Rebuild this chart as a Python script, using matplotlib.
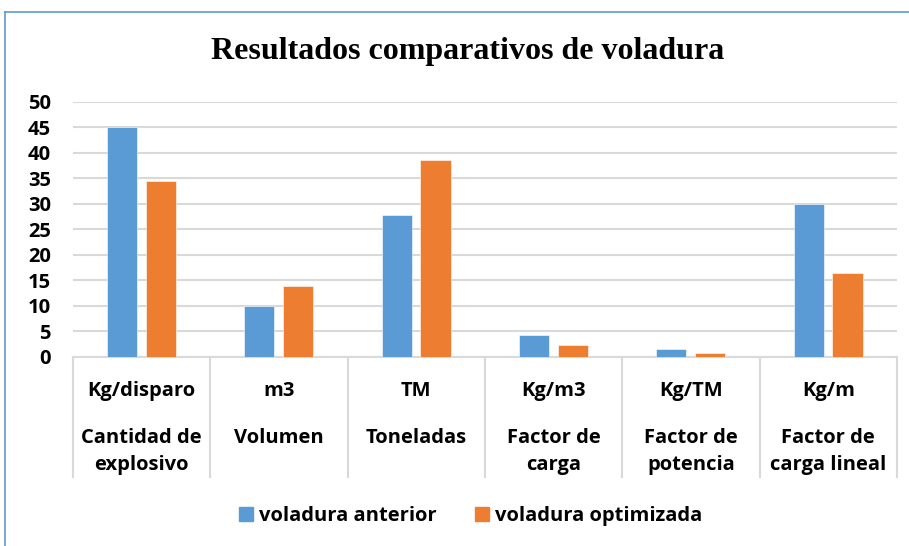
import matplotlib
matplotlib.use("Agg")
import matplotlib.pyplot as plt
import matplotlib.patches as mpatches
from matplotlib.lines import Line2D
import numpy as np

units = ["Kg/disparo", "m3", "TM", "Kg/m3", "Kg/TM", "Kg/m"]
names = ["Cantidad de\nexplosivo", "Volumen", "Toneladas",
         "Factor de\ncarga", "Factor de\npotencia", "Factor de\ncarga lineal"]
anterior = [45, 10, 27.8, 4.3, 1.5, 30]
optimizada = [34.5, 14, 38.5, 2.4, 0.8, 16.5]
series_names = ["voladura anterior", "voladura optimizada"]
yticks = [0, 5, 10, 15, 20, 25, 30, 35, 40, 45, 50]

BLUE = "#5B9BD5"
ORANGE = "#ED7D31"
GRID = "#D9D9D9"
FONT = "Open Sans"
FS = 14.5


def main():
    fig = plt.figure(figsize=(9.09, 5.46), dpi=100)
    ax = fig.add_axes([0.0803, 0.3462, 0.9065, 0.4675])

    x = np.arange(len(units))
    w = 0.22
    ax.bar(x - 0.143, anterior, w, color=BLUE, edgecolor="white", linewidth=0.4, zorder=3)
    ax.bar(x + 0.14, optimizada, w, color=ORANGE, edgecolor="white", linewidth=0.4, zorder=3)

    ax.set_xlim(-0.5, len(units) - 0.5)
    ax.set_ylim(0, 50)
    ax.set_yticks(yticks)
    ax.set_yticklabels([str(v) for v in yticks], fontsize=FS,
                       fontweight="bold", family=FONT)
    ax.tick_params(axis="y", length=0, pad=16)
    ax.set_xticks([])
    ax.grid(axis="y", color=GRID, linewidth=1.5, zorder=0)
    for s in ["top", "right", "left"]:
        ax.spines[s].set_visible(False)
    ax.spines["bottom"].set_color(GRID)
    ax.spines["bottom"].set_linewidth(1.5)

    # category separators + two-level labels
    trans = matplotlib.transforms.blended_transform_factory(ax.transData, ax.transAxes)
    for b in np.arange(len(units) + 1) - 0.5:
        ax.plot([b, b], [0, -0.47], color=GRID, linewidth=1.5,
                transform=trans, clip_on=False)
    for i in range(len(units)):
        ax.text(i, -0.132, units[i], transform=trans, ha="center", va="center",
                fontsize=FS, fontweight="bold", family=FONT)
        ax.text(i, -0.28, names[i], transform=trans, ha="center", va="top",
                fontsize=FS, fontweight="bold", family=FONT, linespacing=1.42)

    fig.text(0.514, 0.905, "Resultados comparativos de voladura",
             ha="center", va="center", fontsize=23, fontweight="bold",
             family="Liberation Serif")

    handles = [mpatches.Patch(color=BLUE, label=series_names[0]),
               mpatches.Patch(color=ORANGE, label=series_names[1])]
    fig.legend(handles=handles, loc="center", bbox_to_anchor=(0.5176, 0.055),
               ncol=2, frameon=False, handlelength=0.7, handleheight=0.7,
               handletextpad=0.3, columnspacing=1.9,
               prop={"family": FONT, "weight": "bold", "size": FS})

    # chart border (cropped: only left and top visible)
    fig.add_artist(Line2D([5 / 909, 5 / 909], [0, 1 - 12 / 546],
                          color=BLUE, linewidth=1.2, transform=fig.transFigure))
    fig.add_artist(Line2D([5 / 909, 1], [1 - 12 / 546, 1 - 12 / 546],
                          color=BLUE, linewidth=1.2, transform=fig.transFigure))

    fig.savefig("out.png", dpi=100)


if __name__ == "__main__":
    main()
